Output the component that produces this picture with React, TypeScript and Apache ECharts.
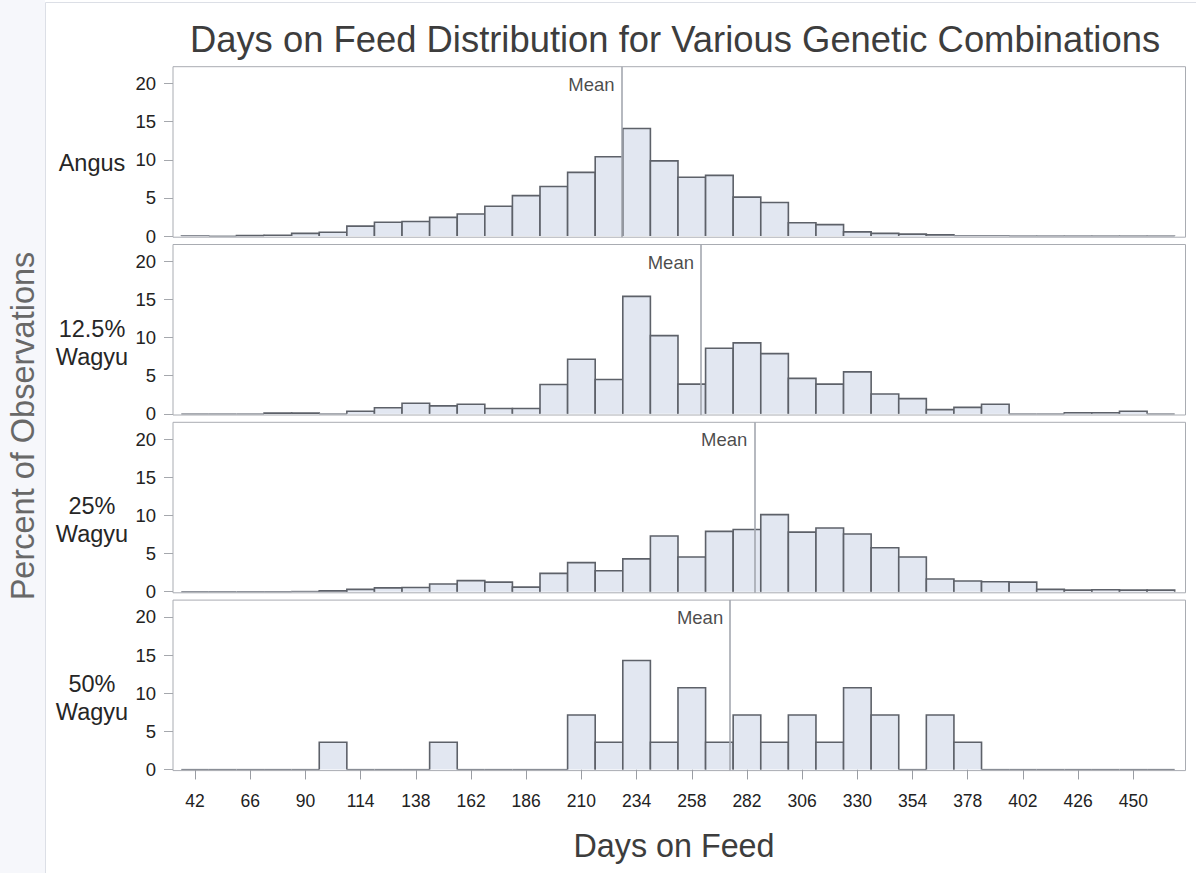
import React, { useEffect, useRef } from 'react';
import * as echarts from 'echarts';

// ---------- data ----------
const binCenters = [42, 54, 66, 78, 90, 102, 114, 126, 138, 150, 162, 174, 186, 198, 210, 222, 234, 246, 258, 270, 282, 294, 306, 318, 330, 342, 354, 366, 378, 390, 402, 414, 426, 438, 450, 462];

const angus = [0.05, 0, 0.08, 0.1, 0.35, 0.5, 1.3, 1.8, 1.9, 2.45, 2.9, 3.9, 5.3, 6.5, 8.35, 10.4, 14.1, 9.85, 7.7, 7.95, 5.1, 4.4, 1.75, 1.5, 0.55, 0.35, 0.25, 0.15, 0.05, 0.05, 0.03, 0.03, 0.03, 0.02, 0.02, 0.02];
const wagyu125 = [0, 0, 0, 0.1, 0.1, 0, 0.35, 0.8, 1.4, 1.05, 1.25, 0.7, 0.7, 3.85, 7.15, 4.5, 15.4, 10.25, 3.9, 8.6, 9.3, 7.9, 4.65, 3.9, 5.5, 2.6, 2.0, 0.55, 0.85, 1.25, 0, 0, 0.15, 0.15, 0.35, 0];
const wagyu25 = [0, 0, 0, 0, 0.03, 0.1, 0.3, 0.5, 0.55, 1.0, 1.45, 1.25, 0.6, 2.4, 3.8, 2.75, 4.3, 7.3, 4.55, 7.9, 8.15, 10.1, 7.8, 8.35, 7.55, 5.75, 4.55, 1.65, 1.4, 1.3, 1.25, 0.3, 0.2, 0.25, 0.2, 0.2];
const wagyu50 = [0, 0, 0, 0, 0, 3.57, 0, 0, 0, 3.57, 0, 0, 0, 0, 7.14, 3.57, 14.29, 3.57, 10.71, 3.57, 7.14, 3.57, 7.14, 3.57, 10.71, 7.14, 0, 7.14, 3.57, 0, 0, 0, 0, 0, 0, 0];

const panelSeries = [angus, wagyu125, wagyu25, wagyu50];
const panelLabels = ['Angus', '12.5%\nWagyu', '25%\nWagyu', '50%\nWagyu'];
const means = [227.5, 262, 285.2, 274.7];

const xTickValues = [42, 66, 90, 114, 138, 162, 186, 210, 234, 258, 282, 306, 330, 354, 378, 402, 426, 450];
const yTickValues = [0, 5, 10, 15, 20];

const chartTitle = 'Days on Feed Distribution for Various Genetic Combinations';
const xTitle = 'Days on Feed';
const yTitle = 'Percent of Observations';
const meanLabel = 'Mean';

// ---------- layout / style ----------
const W = 1196;
const H = 873;
const BIN = 12;
const X_MIN = 32.4;
const X_MAX = 472.7;
const Y_MIN = -0.15;
const Y_MAX = 22.2;
const GRID_LEFT = 173;
const GRID_RIGHT = 10.5;
const PANEL_TOPS = [66.7, 244.5, 422.3, 600.1];
const PANEL_H = 170.5;
const FONT = "'Liberation Sans', Arial, Helvetica, sans-serif";

const BAR_FILL = '#e2e7f1';
const BAR_STROKE = '#5d6169';
const ZERO_STROKE = '#8a8e96';
const BORDER = '#a9acb2';

function yPix(panel: number, v: number) {
  return PANEL_TOPS[panel] + PANEL_H * (Y_MAX - v) / (Y_MAX - Y_MIN);
}

export default function App() {
  const ref = useRef<HTMLDivElement>(null);

  useEffect(() => {
    if (!ref.current) return;
    const chart = echarts.init(ref.current, undefined, { renderer: 'svg' });

    const grids: any[] = [];
    const xAxes: any[] = [];
    const yAxes: any[] = [];
    const series: any[] = [];

    PANEL_TOPS.forEach((top, i) => {
      const last = i === PANEL_TOPS.length - 1;
      grids.push({
        left: GRID_LEFT,
        right: GRID_RIGHT,
        top,
        height: PANEL_H,
        show: true,
        borderColor: BORDER,
        borderWidth: 1,
        backgroundColor: '#ffffff',
      });
      xAxes.push({
        type: 'value',
        gridIndex: i,
        min: X_MIN,
        max: X_MAX,
        splitLine: { show: false },
        axisLine: { show: false },
        axisTick: last
          ? { show: true, customValues: xTickValues, length: 10, lineStyle: { color: '#9a9da3', width: 1 } }
          : { show: false },
        axisLabel: last
          ? { show: true, customValues: xTickValues, margin: 21, fontSize: 17.5, color: '#222222', fontFamily: FONT }
          : { show: false },
      });
      yAxes.push({
        type: 'value',
        gridIndex: i,
        min: Y_MIN,
        max: Y_MAX,
        splitLine: { show: false },
        axisLine: { show: false },
        axisTick: { show: true, customValues: yTickValues, length: 9, lineStyle: { color: '#a5a8ad', width: 1 } },
        axisLabel: { show: true, customValues: yTickValues, margin: 17, fontSize: 18.5, color: '#222222', fontFamily: FONT },
      });

      const vals = panelSeries[i];
      series.push({
        type: 'custom',
        xAxisIndex: i,
        yAxisIndex: i,
        z: 2,
        silent: true,
        data: binCenters.map((c, j) => [c, vals[j]]),
        renderItem: (params: any, api: any) => {
          const x = api.value(0);
          const v = api.value(1);
          const p0 = api.coord([x - BIN / 2, 0]);
          const p1 = api.coord([x + BIN / 2, v]);
          const x0 = p0[0];
          const x1 = p1[0];
          const yb = p0[1];
          const yt = p1[1];
          const flat = yb - yt < 0.5;
          return {
            type: 'group',
            children: [
              {
                type: 'rect',
                shape: { x: x0, y: yt, width: x1 - x0, height: Math.max(0, yb - yt) },
                style: { fill: BAR_FILL, stroke: 'none' },
              },
              {
                type: 'polyline',
                shape: { points: [[x0, yb], [x0, yt], [x1, yt], [x1, yb]] },
                style: { fill: 'none', stroke: flat ? ZERO_STROKE : BAR_STROKE, lineWidth: flat ? 1.2 : 1.6 },
              },
            ],
          };
        },
      });

      series.push({
        type: 'scatter',
        xAxisIndex: i,
        yAxisIndex: i,
        z: 4,
        silent: true,
        symbolSize: 0,
        data: [[means[i], 19.9]],
        label: {
          show: true,
          formatter: meanLabel,
          position: 'left',
          distance: 7,
          fontSize: 18.5,
          color: '#1a1a1a',
          fontFamily: FONT,
        },
        markLine: {
          silent: true,
          symbol: ['none', 'none'],
          label: { show: false },
          lineStyle: { color: '#a4a8b0', width: 1.6, type: 'solid' },
          data: [{ xAxis: means[i] }],
        },
      });
    });

    const graphics: any[] = [
      { type: 'rect', z: -10, shape: { x: 0, y: 0, width: 45, height: H }, style: { fill: '#f6f7fb' } },
      { type: 'line', z: -9, shape: { x1: 45.5, y1: 2.5, x2: 45.5, y2: H }, style: { stroke: '#dcdfe6', lineWidth: 1 } },
      { type: 'line', z: -9, shape: { x1: 45.5, y1: 2.5, x2: W, y2: 2.5 }, style: { stroke: '#dcdfe6', lineWidth: 1 } },
      {
        type: 'text',
        x: 675,
        y: 39,
        style: { text: chartTitle, font: `36.4px ${FONT}`, fill: '#3d3d3d', align: 'center', verticalAlign: 'middle', textAlign: 'center', textVerticalAlign: 'middle' },
      },
      {
        type: 'text',
        x: 674,
        y: 846,
        style: { text: xTitle, font: `32.3px ${FONT}`, fill: '#3d3d3d', align: 'center', verticalAlign: 'middle', textAlign: 'center', textVerticalAlign: 'middle' },
      },
      {
        type: 'text',
        x: 23,
        y: 426,
        rotation: Math.PI / 2,
        style: { text: yTitle, font: `32.5px ${FONT}`, fill: '#686868', align: 'center', verticalAlign: 'middle', textAlign: 'center', textVerticalAlign: 'middle' },
      },
    ];

    panelLabels.forEach((lab, i) => {
      graphics.push({
        type: 'text',
        x: 92,
        y: yPix(i, 10) + (lab.includes('\n') ? 5 : 3),
        style: {
          text: lab,
          font: `23.5px ${FONT}`,
          lineHeight: 28,
          fill: '#262626',
          align: 'center',
          verticalAlign: 'middle',
          textAlign: 'center',
          textVerticalAlign: 'middle',
        },
      });
    });

    chart.setOption({
      animation: false,
      backgroundColor: '#ffffff',
      grid: grids,
      xAxis: xAxes,
      yAxis: yAxes,
      series,
      graphic: graphics,
    });

    return () => {
      chart.dispose();
    };
  }, []);

  return (
    <div
      ref={ref}
      style={{ position: 'absolute', left: 0, top: 0, width: W, height: H, background: '#ffffff' }}
    />
  );
}
